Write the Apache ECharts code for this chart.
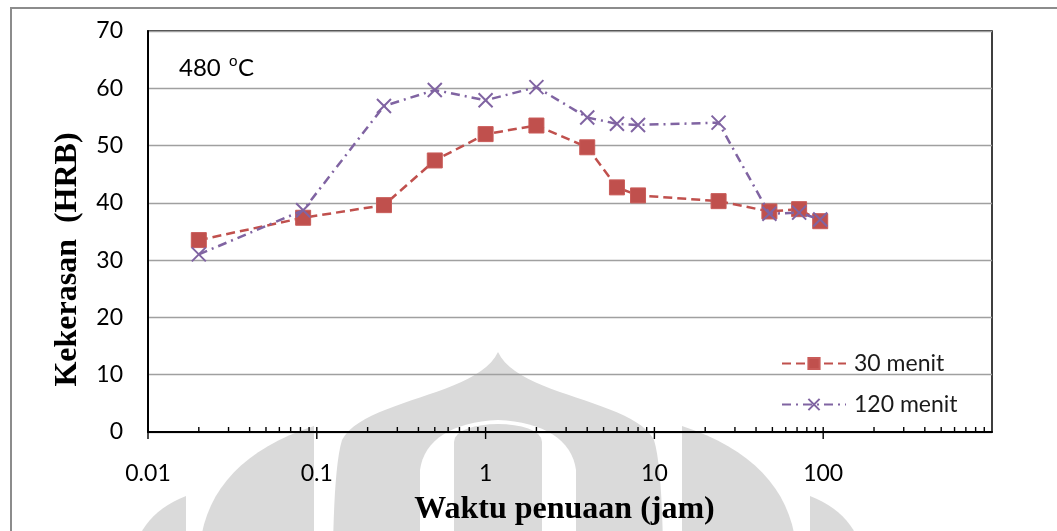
<!DOCTYPE html>
<html>
<head>
<meta charset="utf-8">
<title>Kekerasan vs Waktu penuaan</title>
<script src="https://cdn.jsdelivr.net/npm/echarts@6/dist/echarts.min.js"></script>
<style>
  html, body { margin: 0; padding: 0; background: #fff; }
  #chart { width: 1057px; height: 531px; }
</style>
</head>
<body>
<div id="chart"></div>
<script>
// Aging time (hours) for each measurement
const agingTime = [0.02, 0.083, 0.25, 0.5, 1, 2, 4, 6, 8, 24, 48, 72, 96];
// Hardness (HRB) for 30 minutes solution treatment
const hardness30 = [33.5, 37.4, 39.6, 47.4, 52.0, 53.5, 49.7, 42.7, 41.3, 40.3, 38.5, 38.9, 36.8];
// Hardness (HRB) for 120 minutes solution treatment
const hardness120 = [31.0, 38.7, 56.9, 59.7, 57.9, 60.2, 54.9, 53.8, 53.6, 54.0, 38.1, 38.3, 37.1];

const seriesNames = ['30 menit', '120 menit'];
const xTickLabels = { '0.01': '0.01', '0.1': '0.1', '1': '1', '10': '10', '100': '100' };
const yTicks = [0, 10, 20, 30, 40, 50, 60, 70];

// log-axis decade ticks and the 2..9 sub-ticks between them
const decades = [0.01, 0.1, 1, 10, 100];
const subMultipliers = [2, 3, 4, 5, 6, 7, 8, 9];

const tickData = [];
decades.forEach(d => {
  tickData.push([d, 0, 1]);
  subMultipliers.forEach(m => tickData.push([+(d * m).toPrecision(4), 0, 0]));
});

const pair = (xs, ys) => xs.map((x, i) => [x, ys[i]]);

const RED = '#C0504D';
const PURPLE = '#8064A2';
const WM = '#dadada';

// sample a cubic / quadratic curve into polygon points for the background emblem
function cubic(p0, p1, p2, p3, n) {
  const pts = [];
  for (let i = 0; i <= n; i++) {
    const t = i / n, u = 1 - t;
    pts.push([
      u * u * u * p0[0] + 3 * u * u * t * p1[0] + 3 * u * t * t * p2[0] + t * t * t * p3[0],
      u * u * u * p0[1] + 3 * u * u * t * p1[1] + 3 * u * t * t * p2[1] + t * t * t * p3[1]
    ]);
  }
  return pts;
}
function quad(p0, p1, p2, n) {
  return cubic(p0,
    [p0[0] + 2 / 3 * (p1[0] - p0[0]), p0[1] + 2 / 3 * (p1[1] - p0[1])],
    [p2[0] + 2 / 3 * (p1[0] - p2[0]), p2[1] + 2 / 3 * (p1[1] - p2[1])],
    p2, n);
}
const mirror = pts => pts.map(p => [996 - p[0], p[1]]).reverse();

const spireLeft = cubic([498, 352], [478, 396], [362, 400], [342, 440], 24)
  .concat(cubic([342, 440], [336, 460], [334, 500], [333, 545], 10).slice(1));
const spire = spireLeft.concat(mirror(spireLeft));

const archLeft = cubic([498, 420], [452, 422], [424, 440], [420, 470], 16).concat([[420, 545]]);
const arch = archLeft.concat(mirror(archLeft));

const columnPts = [[454, 545], [454, 442]].concat(cubic([454, 442], [454, 418], [542, 418], [542, 442], 16)).concat([[542, 545]]);

const petalL = [[314, 426]].concat(quad([314, 426], [210, 460], [200, 545], 16).slice(1)).concat([[314, 545]]);
const petalR = petalL.map(p => [996 - p[0], p[1]]);
const outerL = [[186, 496]].concat(quad([186, 496], [146, 512], [136, 545], 12).slice(1)).concat([[186, 545]]);
const outerR = outerL.map(p => [996 - p[0], p[1]]);

const emblem = (pts, fill, z) => ({ type: 'polygon', z: z, silent: true, shape: { points: pts }, style: { fill: fill } });

const chart = echarts.init(document.getElementById('chart'), null, { renderer: 'canvas' });

chart.setOption({
  animation: false,
  backgroundColor: '#fff',
  grid: {
    left: 148, right: 65, top: 31, bottom: 96,
    show: true, borderColor: '#000', borderWidth: 1.5, backgroundColor: 'transparent'
  },
  graphic: {
    elements: [
      emblem(spire, WM, -20),
      emblem(arch, '#fff', -19),
      emblem(columnPts, WM, -18),
      emblem(petalL, WM, -18),
      emblem(petalR, WM, -18),
      emblem(outerL, WM, -18),
      emblem(outerR, WM, -18),
      // outer frame
      { type: 'rect', z: 10, silent: true,
        shape: { x: 11, y: 8, width: 1100, height: 600 },
        style: { fill: 'none', stroke: '#8c8c8c', lineWidth: 2 } },
      // temperature note
      { type: 'text', z: 10, x: 179, y: 56,
        style: { text: '480', font: '24px Lato', fill: '#000' } },
      { type: 'text', z: 10, x: 229, y: 54,
        style: { text: 'o', font: '15px Lato', fill: '#000' } },
      { type: 'text', z: 10, x: 238, y: 56,
        style: { text: 'C', font: '24px Lato', fill: '#000' } }
    ]
  },
  legend: {
    orient: 'vertical',
    left: 776, top: 347,
    itemWidth: 64, itemHeight: 14, itemGap: 18,
    data: seriesNames,
    textStyle: { fontFamily: 'Lato', fontSize: 23, color: '#1a1a1a', padding: [0, 0, 0, 3] }
  },
  xAxis: {
    type: 'log', logBase: 10, min: 0.01, max: 1000,
    name: 'Waktu penuaan (jam)',
    nameLocation: 'middle', nameGap: 78,
    nameTextStyle: { fontFamily: 'Liberation Serif', fontWeight: 'bold', fontSize: 32, color: '#000', verticalAlign: 'middle', padding: [0, 11, 0, 0] },
    axisLine: { show: true, lineStyle: { color: '#000', width: 2 } },
    axisTick: { show: false },
    splitLine: { show: false },
    minorTick: { show: false },
    axisLabel: {
      margin: 30, fontFamily: 'Lato', fontSize: 23, color: '#000',
      showMaxLabel: false,
      formatter: v => xTickLabels[String(+(+v).toPrecision(6))] || ''
    }
  },
  yAxis: {
    type: 'value', min: 0, max: 70, interval: 10,
    name: 'Kekerasan  (HRB)',
    nameLocation: 'middle', nameGap: 80, nameRotate: 90,
    nameTextStyle: { fontFamily: 'Liberation Serif', fontWeight: 'bold', fontSize: 32, color: '#000', verticalAlign: 'middle', padding: [0, 56, 0, 0] },
    axisLine: { show: true, lineStyle: { color: '#000', width: 2 } },
    axisTick: { show: false },
    axisLabel: {
      margin: 25, fontFamily: 'Lato', fontSize: 23, color: '#000',
      formatter: v => yTicks.includes(v) ? String(v) : ''
    },
    splitLine: { show: true, lineStyle: { color: '#a0a0a0', width: 1.3 } }
  },
  series: [
    {
      type: 'custom',
      name: 'ticks',
      silent: true,
      clip: false,
      z: 5,
      data: tickData,
      encode: { x: 0, y: 1 },
      renderItem: (params, api) => {
        const p = api.coord([api.value(0), 0]);
        const major = api.value(2) === 1;
        return {
          type: 'line',
          shape: { x1: p[0], y1: p[1] - 5, x2: p[0], y2: p[1] + (major ? 7 : 0) },
          style: { stroke: '#000', lineWidth: 1.4 }
        };
      }
    },
    {
      name: seriesNames[0],
      type: 'line',
      z: 3,
      data: pair(agingTime, hardness30),
      symbol: 'rect',
      symbolSize: 15,
      lineStyle: { color: RED, width: 2.5, type: [9, 5] },
      itemStyle: { color: RED, borderColor: '#c95c59', borderWidth: 1 },
      emphasis: { disabled: true }
    },
    {
      name: seriesNames[1],
      type: 'line',
      z: 4,
      data: pair(agingTime, hardness120),
      symbol: 'path://M0,0L10,10M10,0L0,10',
      symbolSize: 14,
      lineStyle: { color: PURPLE, width: 2.5, type: [9, 5, 2, 5] },
      itemStyle: { color: PURPLE, borderColor: PURPLE, borderWidth: 2 },
      emphasis: { disabled: true }
    }
  ]
});
</script>
</body>
</html>
